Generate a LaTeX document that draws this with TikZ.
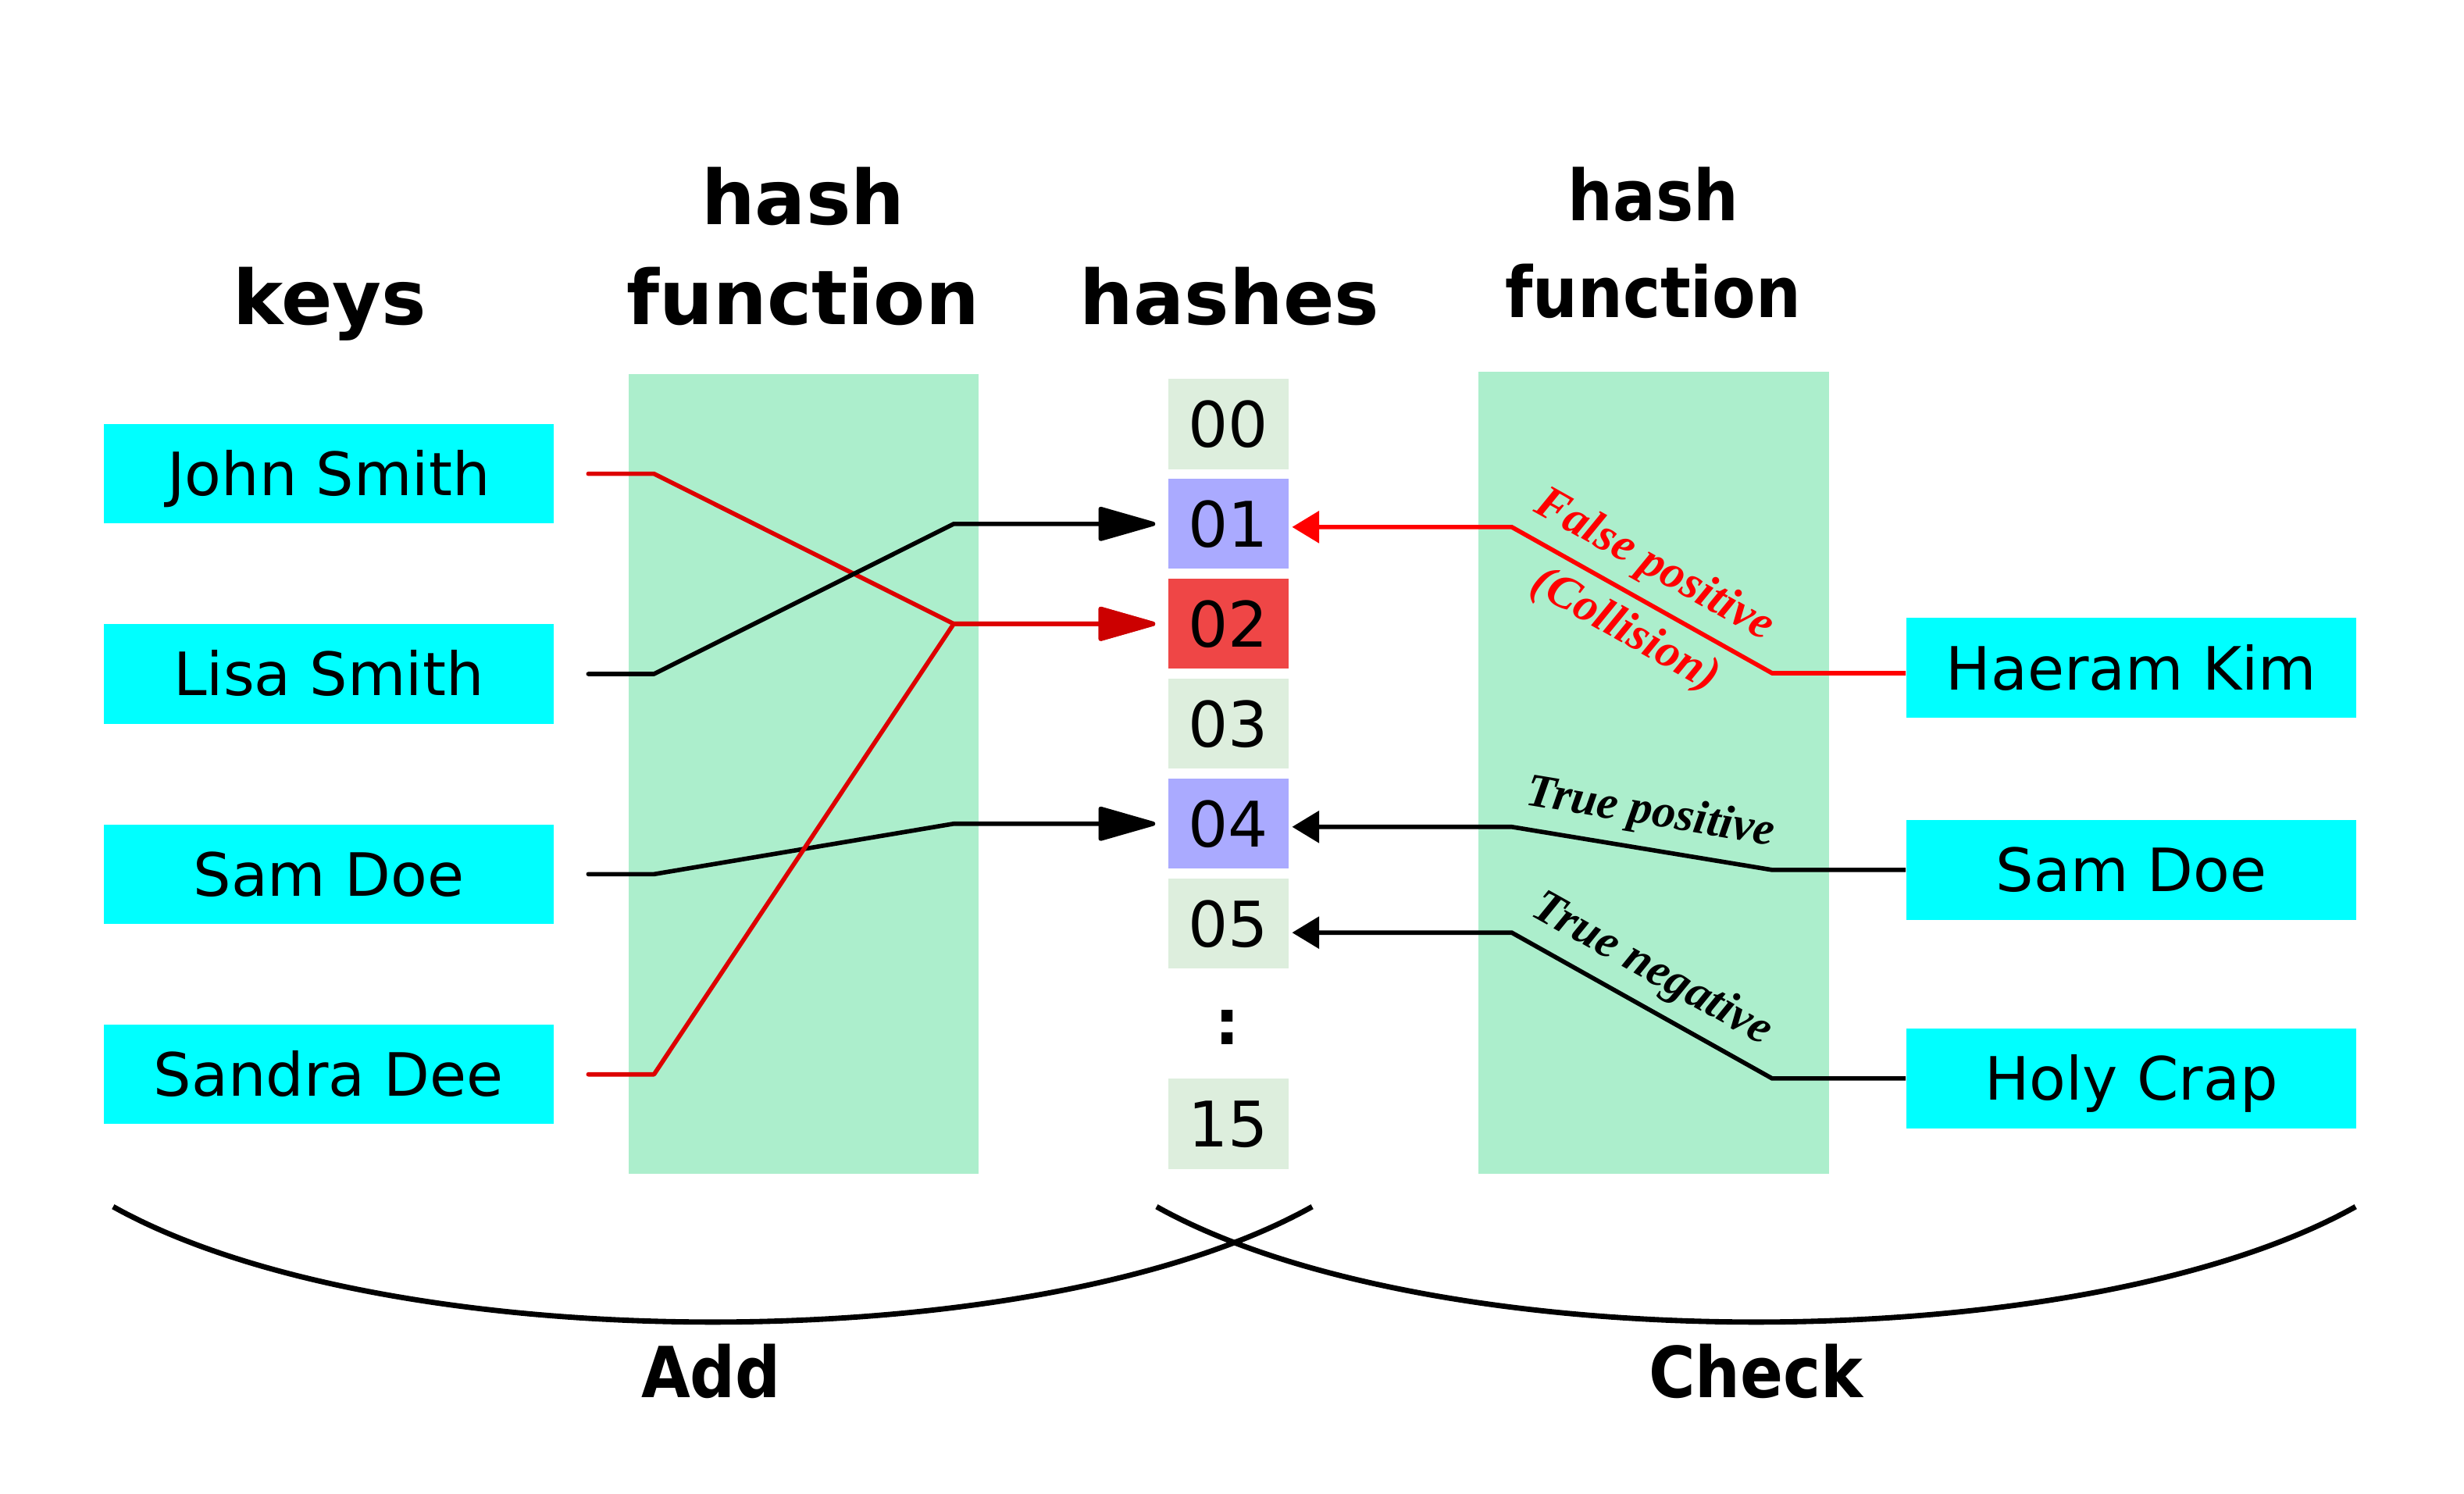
\documentclass[tikz,border=0pt]{standalone}
\usepackage{fontspec}
\usepackage{graphicx}
\setmainfont{DejaVu Sans}
\newfontfamily\notefont{Liberation Serif}
\usetikzlibrary{arrows.meta}

\definecolor{keycyan}{RGB}{0,255,255}
\definecolor{hashgreen}{RGB}{172,238,204}
\definecolor{cellgreen}{RGB}{221,238,221}
\definecolor{cellblue}{RGB}{170,170,255}
\definecolor{cellred}{RGB}{239,70,70}
\definecolor{linered}{RGB}{221,0,0}
\definecolor{tipred}{RGB}{204,0,0}

\begin{document}
\begin{tikzpicture}[x=0.5pt, y=-0.5pt,
    keybox/.style={rectangle, fill=keycyan, inner sep=0pt,
      minimum width=143.2pt, minimum height=31.7pt,
      font=\fontsize{19}{23}\selectfont, text height=13.85pt, text depth=0pt},
    hashcell/.style={rectangle, inner sep=0pt,
      minimum width=38.15pt, minimum height=28.65pt,
      font=\fontsize{20}{24}\selectfont, text height=14.6pt, text depth=0pt},
    cellfree/.style={fill=cellgreen},
    cellhit/.style={fill=cellblue},
    cellclash/.style={fill=cellred},
    hashpanel/.style={rectangle, fill=hashgreen, inner sep=0pt},
    heading/.style={font=\fontsize{24}{31.65}\selectfont\bfseries, anchor=base, inner sep=0pt},
    subheading/.style={font=\fontsize{22.4}{30.65}\selectfont\bfseries, anchor=base, inner sep=0pt},
    notelabel/.style={font=\notefont\fontsize{15}{17}\selectfont\bfseries\itshape, inner sep=0pt},
    addline/.style={line width=1.4pt, line cap=round, line join=round, shorten >=4pt,
      -{Triangle[length=20pt, width=11pt, round]}},
    addred/.style={addline, draw=linered,
      -{Triangle[length=20pt, width=11pt, round, color=tipred]}},
    checkline/.style={line width=1.4pt, shorten >=1pt,
      -{Triangle[length=8.6pt, width=10pt]}},
    brace/.style={line width=1.7pt},
    ]

    \useasboundingbox (0,0) rectangle (1568,950.3);

    % hash function panels
    \node[hashpanel, minimum width=111.25pt, minimum height=254.45pt] (addhash) at (511.45,492.45) {};
    \node[hashpanel, minimum width=111.55pt, minimum height=255.15pt] (checkhash) at (1052.45,491.75) {};

    % headings
    \node[heading] (keyshead) at (210,206.3) {keys};
    \node[heading] (addhead) at (511,206.3) {\begin{tabular}[b]{@{}c@{}}hash\\function\end{tabular}};
    \node[heading] (hasheshead) at (782.5,206.3) {hashes};
    \node[subheading] (checkhead) at (1052,201.8)
      {\scalebox{0.9}[1]{\begin{tabular}[b]{@{}c@{}}hash\\function\end{tabular}}};

    % keys
    \node[keybox] (john) at (209.2,301.5) {John Smith};
    \node[keybox] (lisa) at (209.2,428.9) {Lisa Smith};
    \node[keybox] (sam) at (209.2,556.3) {Sam Doe};
    \node[keybox] (sandra) at (209.2,683.7) {Sandra Dee};
    \node[keybox] (haeram) at (1356.3,425) {Haeram Kim};
    \node[keybox] (samchk) at (1356.3,553.6) {Sam Doe};
    \node[keybox] (holy) at (1356.3,686.3) {Holy Crap};

    % hashes
    \foreach \lab/\sty [count=\i from 0] in {00/cellfree, 01/cellhit, 02/cellclash, 03/cellfree, 04/cellhit, 05/cellfree}
      \node[hashcell, \sty] (h\lab) at (781.7,269.8+63.6*\i) {\lab};
    \node[font=\fontsize{20}{24}\selectfont\bfseries] (hdots) at (781.3,654) {:};
    \node[hashcell, cellfree] (h15) at (781.7,715.2) {15};

    \coordinate (addbend) at (606.9,0);
    \coordinate (chkbend) at (962,0);
    \coordinate (in01) at ([yshift=-1pt]h01.east);
    \coordinate (in04) at ([yshift=-1pt]h04.east);
    \coordinate (in05) at ([yshift=-2.85pt]h05.east);
    \coordinate (outhaeram) at ([yshift=-1.7pt]haeram.west);

    % add
    \draw[addred] ([xshift=10.8pt]john.east) -- ++(20.9pt,0) -- (addbend |- h02.west) -- (h02.west);
    \draw[addline] ([xshift=10.8pt]lisa.east) -- ++(20.9pt,0) -- (addbend |- h01.west) -- (h01.west);
    \draw[addline] ([xshift=10.8pt]sam.east) -- ++(20.9pt,0) -- (addbend |- h04.west) -- (h04.west);
    \draw[addred] ([xshift=10.8pt]sandra.east) -- ++(20.9pt,0) -- (addbend |- h02.west) -- (h02.west);

    % check
    \draw[checkline, red] (outhaeram) -- ++(-42.5pt,0)
      -- node[notelabel, red, sloped, above=3.8pt, pos=0.52] {False positive}
         node[notelabel, red, sloped, below=3.8pt, pos=0.5] {(Collision)} (chkbend |- in01)
      -- (in01);
    \draw[checkline] (samchk.west) -- ++(-42.5pt,0)
      -- node[notelabel, sloped, above=3.8pt, pos=0.49] {True positive} (chkbend |- in04)
      -- (in04);
    \draw[checkline] (holy.west) -- ++(-42.5pt,0)
      -- node[notelabel, sloped, above=3.8pt, pos=0.53] {True negative} (chkbend |- in05)
      -- (in05);

    % add / check braces
    \draw[brace] (72,767.9) .. controls (247,865.8) and (660,865.8) .. (835,767.9);
    \draw[brace] (736,767.9) .. controls (911,865.8) and (1324,865.8) .. (1499,767.9);
    \node[subheading] (addlabel) at (452.5,889.3) {\scalebox{0.9}[1]{Add}};
    \node[subheading] (checklabel) at (1117.5,889.3) {\scalebox{0.9}[1]{Check}};

\end{tikzpicture}
\end{document}
